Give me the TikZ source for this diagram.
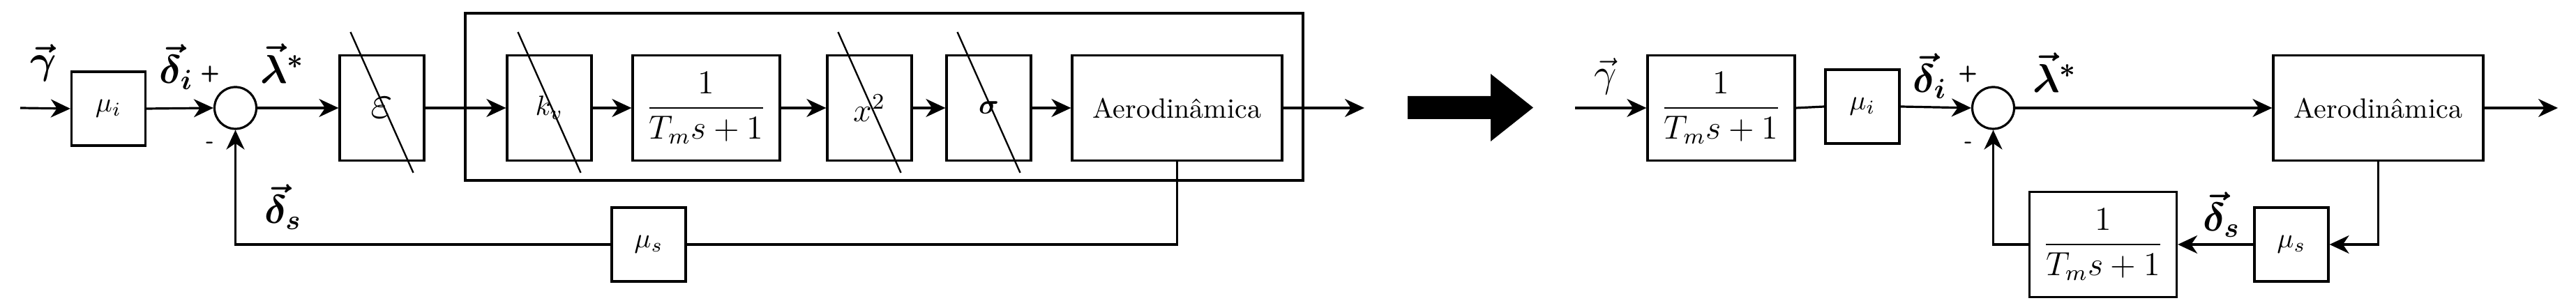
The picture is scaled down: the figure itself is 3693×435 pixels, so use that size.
\documentclass[tikz,border=0pt]{standalone}
\usepackage{amsmath}
\usepackage{bm}
\usetikzlibrary{arrows.meta}

\tikzset{
  blk/.style={draw, line width=0.8pt, inner sep=0pt, minimum width=30.25pt, minimum height=37.75pt},
  fracblk/.style={blk, minimum width=52.75pt, font=\large},
  aeroblk/.style={blk, minimum width=75.25pt},
  gainblk/.style={blk, minimum width=26.5pt, minimum height=26.5pt},
  sumnode/.style={draw, circle, line width=0.8pt, minimum size=15pt, inner sep=0pt},
  sgn/.style={inner sep=0pt, font=\sffamily\bfseries\footnotesize},
  lbl/.style={inner sep=0pt, font=\Large},
  slash/.style={line width=0.6pt}
}

\begin{document}
\begin{tikzpicture}[x=0.25pt,y=0.25pt,yscale=-1,xscale=1,line width=0.8pt,
  >={Stealth[length=7pt,width=6.5pt,inset=2.2pt]}]
  \useasboundingbox (0,0) rectangle (3693,435);

  %Left diagram: blocks
  \node[gainblk] (mui1) at (155.5,156) {$\mu_i$};
  \node[sumnode] (sum1) at (337.5,155) {};
  \node[blk] (eps) at (547.5,155) {\LARGE$\varepsilon$};
  \node[blk] (kv) at (787.5,155) {$k_v$};
  \node[fracblk] (tm1) at (1012.5,155) {$\dfrac{1}{T_m s+1}$};
  \node[blk] (xsq) at (1246.5,155) {\large$x^2$};
  \node[blk] (sig) at (1417.5,155) {$\bm{\sigma}$};
  \node[aeroblk] (aero1) at (1687.5,155) {Aerodinâmica};
  \node[gainblk] (mus1) at (930,351) {$\mu_s$};
  %Shape: Rectangle round the plant
  \draw (667,19) rectangle (1868,259);
  %Strike lines
  \draw[slash] ([shift={(-45,-109)}]eps.center) -- ([shift={(45,93)}]eps.center);
  \draw[slash] ([shift={(-45,-109)}]kv.center) -- ([shift={(45,93)}]kv.center);
  \draw[slash] ([shift={(-45,-109)}]xsq.center) -- ([shift={(45,93)}]xsq.center);
  \draw[slash] ([shift={(-45,-109)}]sig.center) -- ([shift={(45,93)}]sig.center);

  %Left diagram: connectors
  \coordinate (in1) at (29,155);
  \coordinate (out1) at (1956,155);
  \draw[->] (in1) -- (mui1.west);
  \draw[->] (mui1.east) -- (sum1.west);
  \draw[->] (sum1.east) -- (eps.west);
  \draw[->] (eps.east) -- (kv.west);
  \draw[->] (kv.east) -- (tm1.west);
  \draw[->] (tm1.east) -- (xsq.west);
  \draw[->] (xsq.east) -- (sig.west);
  \draw[->] (sig.east) -- (aero1.west);
  \draw[->] (aero1.east) -- (out1);
  \draw (aero1.south) |- (mus1.east);
  \draw[->] (mus1.west) -| (sum1.south);

  % Text Node
  \node[lbl] (gam1) at (62,90) {$\bm{\vec{\gamma}}$};
  \node[lbl] (deli1) at (253,96) {$\bm{\vec{\delta}_i}$};
  \node[sgn] (plus1) at (301,107) {+};
  \node[sgn] (minus1) at (301,208) {-};
  \node[lbl] (lam1) at (405,91) {$\bm{\vec{\lambda}^*}$};
  \node[lbl] (dels1) at (406,297) {$\bm{\vec{\delta}_s}$};

  %Shape: Block arrow
  \fill (2018,138) -- (2137,138) -- (2137,106) -- (2198,154.5) -- (2137,203) -- (2137,171) -- (2018,171) -- cycle;

  %Right diagram: blocks
  \node[fracblk] (tm2) at (2467.5,155) {$\dfrac{1}{T_m s+1}$};
  \node[gainblk] (mui2) at (2670,153) {$\mu_i$};
  \node[sumnode] (sum2) at (2857.5,155) {};
  \node[aeroblk] (aero2) at (3409.5,155) {Aerodinâmica};
  \node[gainblk] (mus2) at (3285,351) {$\mu_s$};
  \node[fracblk] (tm3) at (3015,351) {$\dfrac{1}{T_m s+1}$};

  %Right diagram: connectors
  \coordinate (in2) at (2258,155);
  \coordinate (out2) at (3667,155);
  \draw[->] (in2) -- (tm2.west);
  \draw (tm2.east) -- (mui2.west);
  \draw[->] (mui2.east) -- (sum2.west);
  \draw[->] (sum2.east) -- (aero2.west);
  \draw[->] (aero2.east) -- (out2);
  \draw[->] (aero2.south) |- (mus2.east);
  \draw[->] (mus2.west) -- (tm3.east);
  \draw[->] (tm3.west) -| (sum2.south);

  % Text Node
  \node[lbl] (gam2) at (2302,110) {$\vec{\gamma}$};
  \node[lbl] (deli2) at (2767,109) {$\bm{\vec{\delta}_i}$};
  \node[sgn] (plus2) at (2821,107) {+};
  \node[sgn] (minus2) at (2822,208) {-};
  \node[lbl] (lam2) at (2946,104) {$\bm{\vec{\lambda}^*}$};
  \node[lbl] (dels2) at (3185,308) {$\bm{\vec{\delta}_s}$};
\end{tikzpicture}
\end{document}
